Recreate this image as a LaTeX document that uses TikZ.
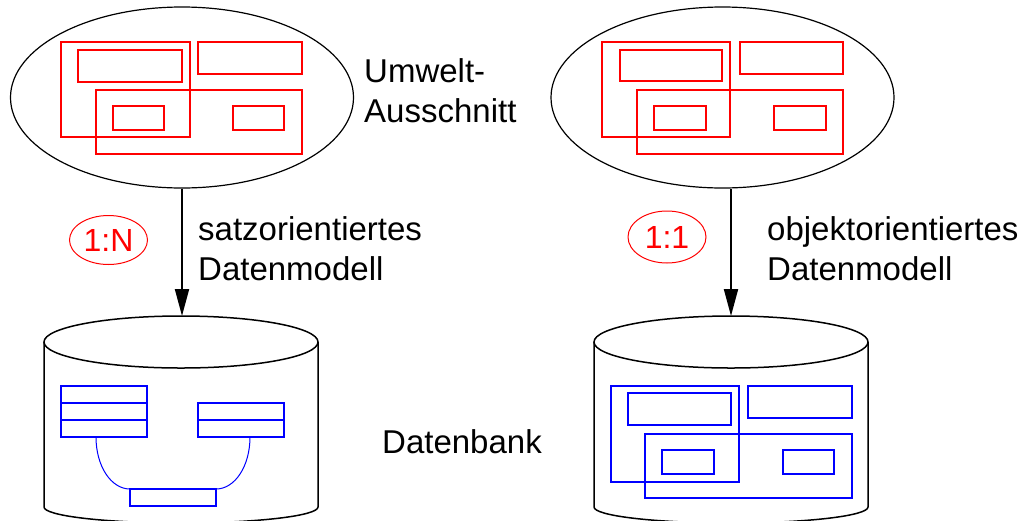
\documentclass[tikz,border=0pt]{standalone}
\usepackage{fontspec}
\setmainfont{Liberation Sans}
\usetikzlibrary{shapes.geometric, arrows.meta}

\begin{document}
\begin{tikzpicture}[x=1pt, y=-1pt,
  rotbox/.style={draw=red, line width=2pt},
  blaubox/.style={draw=blue, line width=2pt},
  welt/.style={draw, ellipse, line width=1.2pt, minimum width=343pt, minimum height=181pt, inner sep=0pt},
  kard/.style={draw=red, ellipse, text=red, line width=1pt, minimum width=78pt, minimum height=49pt, inner sep=0pt, font=\fontsize{32}{38}\selectfont},
  txt/.style={align=left, inner sep=0pt, anchor=base west, font=\fontsize{33}{40}\selectfont},
  dbrand/.style={line width=1.5pt},
  pfeil/.style={line width=2pt, -{Triangle[length=27pt, width=14pt]}}]
\useasboundingbox (0,0) rectangle (1030,520);

% Umwelt-Ausschnitte
\node[welt] (umweltL) at (182,97.5) {};
\node[welt] (umweltR) at (722.5,97.5) {};
\node[txt] (umwtext) at (364,122) {Umwelt-\\Ausschnitt};

\draw[rotbox] (61,42) rectangle (190,137);
\draw[rotbox] (78,50) rectangle (182,82);
\draw[rotbox] (198,42) rectangle (302,74);
\draw[rotbox] (96,90) rectangle (302,154);
\draw[rotbox] (113,106) rectangle (164,130);
\draw[rotbox] (233,106) rectangle (284,130);

\draw[rotbox] (602,42) rectangle (730,137);
\draw[rotbox] (620,50) rectangle (722,81);
\draw[rotbox] (740,42) rectangle (843,74);
\draw[rotbox] (637,90) rectangle (843,154);
\draw[rotbox] (654,106) rectangle (706,130);
\draw[rotbox] (774,106) rectangle (826,130);

% Abbildung
\coordinate (dbL) at (182,316);
\coordinate (dbR) at (731,316);
\draw[pfeil] (umweltL.south) -- (dbL);
\draw[pfeil] (umweltR.south -| dbR) -- (dbR);
\node[kard] (kardL) at (108.5,240) {1:N};
\node[kard, minimum height=52pt] (kardR) at (667,237) {1:1};
\node[txt] (satz) at (198,280) {satzorientiertes\\Datenmodell};
\node[txt] (objekt) at (767,280) {objektorientiertes\\Datenmodell};

% Datenbanken
\draw[dbrand] (181,342) ellipse [x radius=137, y radius=26];
\draw[dbrand] (44,342) -- (44,507) arc[start angle=180, end angle=0, x radius=137, y radius=16] -- (318,342);
\draw[dbrand] (731,342) ellipse [x radius=137, y radius=26];
\draw[dbrand] (594,342) -- (594,507) arc[start angle=180, end angle=0, x radius=137, y radius=16] -- (868,342);
\node[txt] (dbtext) at (382,453) {Datenbank};

\draw[blaubox] (61,386) rectangle (147,437);
\draw[blaubox] (61,403) -- (147,403) (61,420) -- (147,420);
\draw[blaubox] (198,403) rectangle (284,437);
\draw[blaubox] (198,420) -- (284,420);
\draw[blaubox] (130,489) rectangle (216,506);
\draw[blue, line width=1pt] (96,437) .. controls (96,466) and (111,489) .. (130,489);
\draw[blue, line width=1pt] (250,437) .. controls (250,466) and (235,489) .. (216,489);

\draw[blaubox] (611,386) rectangle (739,482);
\draw[blaubox] (628,393) rectangle (731,425);
\draw[blaubox] (748,386) rectangle (852,418);
\draw[blaubox] (645,434) rectangle (852,498);
\draw[blaubox] (662,450) rectangle (714,474);
\draw[blaubox] (783,450) rectangle (834,474);
\end{tikzpicture}
\end{document}
